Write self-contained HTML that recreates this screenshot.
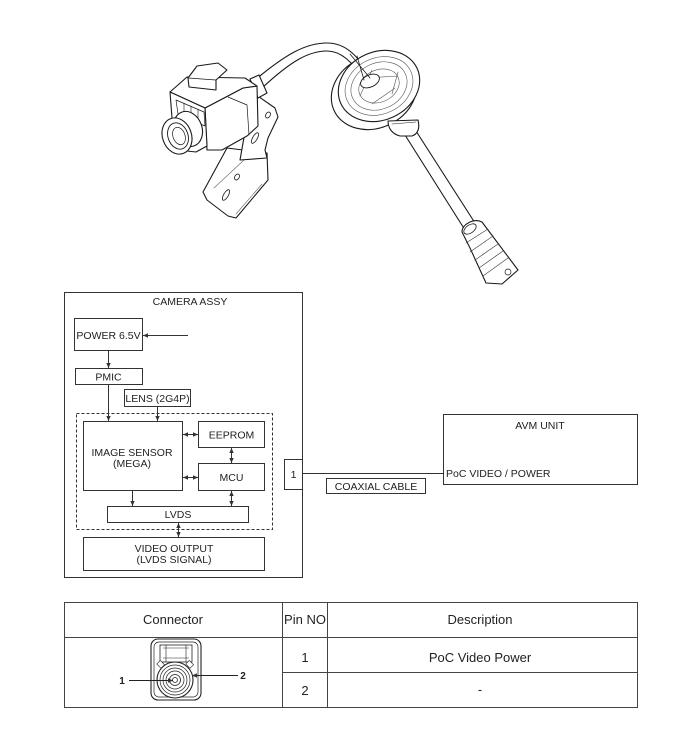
<!DOCTYPE html>
<html><head><meta charset="utf-8"><style>
html,body{margin:0;padding:0;background:#fff;}
svg{display:block;}
text{font-family:"Liberation Sans",Arial,sans-serif;fill:#222;}
</style></head><body>
<svg width="699" height="750" viewBox="0 0 699 750" xmlns="http://www.w3.org/2000/svg">
<defs>
<marker id="ah" markerWidth="6" markerHeight="6" refX="5" refY="3" orient="auto" markerUnits="userSpaceOnUse">
<path d="M0,0.8 L5,3 L0,5.2 Z" fill="#333"/>
</marker>
<marker id="as" markerWidth="6" markerHeight="6" refX="1" refY="3" orient="auto" markerUnits="userSpaceOnUse">
<path d="M6,0.8 L1,3 L6,5.2 Z" fill="#333"/>
</marker>
</defs>

<!-- ===== Illustration ===== -->
<g stroke="#1a1a1a" stroke-width="1.1" fill="#fff" stroke-linejoin="round" stroke-linecap="round">
  <!-- cable camera->grommet -->
  <path d="M255,80 C285,55 305,43 327,43 C345,43 358,55 370,77" fill="none"/>
  <path d="M262,88 C290,62 308,51 327,51 C340,51 352,60 364,81" fill="none"/>
  <!-- cable grommet->connector -->
  <path d="M405,135 L465,230" fill="none"/>
  <path d="M416,131 L475,223" fill="none"/>

  <!-- bracket lower plate -->
  <path d="M227,148 L203,192 L207,200 L228,216 L236,218 L268,180 L267,153 Z"/>
  <path d="M214,188 L244,160 M236,214 L262,184" fill="none" stroke-width="0.6" stroke="#666"/>
  <!-- bracket upper plate -->
  <path d="M252,92 L275,108 L278,117 L268,138 L265,150 L267,158 L240,160 Z"/>
  <ellipse cx="268" cy="115" rx="2.2" ry="3.2" transform="rotate(30 268 115)" stroke-width="0.8"/>
  <ellipse cx="255" cy="138" rx="2.3" ry="6" transform="rotate(30 255 138)" stroke-width="0.8"/>
  <ellipse cx="237" cy="177" rx="2.2" ry="3.2" transform="rotate(30 237 177)" stroke-width="0.8"/>
  <ellipse cx="226" cy="195" rx="2.3" ry="6" transform="rotate(30 226 195)" stroke-width="0.8"/>

  <!-- cable entry -->
  <path d="M250,79 L259,75 L267,93 L258,98 Z"/>
  <!-- body side face -->
  <path d="M205,108 L243,88 L257,86 L258,126 L247,136 L222,150 L207,150 Z"/>
  <path d="M228,97 L247,105 L249,135" fill="none" stroke-width="0.7"/>
  <!-- body top face -->
  <path d="M170,92 L187,77 L245,78 L257,86 L243,88 L205,108 Z"/>
  <!-- front face -->
  <path d="M170,92 L205,108 L207,146 L196,152 L178,150 L172,118 Z"/>
  <!-- hood -->
  <path d="M188,78 L197,66 L218,63 L227,70 L216,80 L216,90 L189,87 Z"/>
  <path d="M188,78 L216,80" fill="none" stroke-width="0.8"/>
  <!-- connector details on face -->
  <path d="M176,100 L204,112 L205,126 L178,114 Z" stroke-width="0.7"/>
  <path d="M184,103 L184,117 M191,106 L191,120 M198,109 L198,123" fill="none" stroke-width="0.6"/>
  <!-- lens -->
  <ellipse cx="188" cy="129" rx="14" ry="18" transform="rotate(-20 188 129)"/>
  <ellipse cx="177" cy="136" rx="14.5" ry="18.5" transform="rotate(-20 177 136)"/>
  <ellipse cx="178" cy="136" rx="10" ry="13.5" transform="rotate(-20 178 136)" stroke-width="0.9"/>
  <ellipse cx="179" cy="136" rx="6" ry="9" transform="rotate(-20 179 136)" stroke-width="0.7"/>

  <!-- grommet -->
  <ellipse cx="374" cy="92" rx="44" ry="36" transform="rotate(-25 374 92)"/>
  <ellipse cx="379" cy="86" rx="42" ry="34" transform="rotate(-25 379 86)"/>
  <ellipse cx="379" cy="86" rx="35" ry="28" transform="rotate(-25 379 86)" stroke-width="0.6" stroke="#555"/>
  <ellipse cx="379" cy="86" rx="29" ry="23" transform="rotate(-25 379 86)" stroke-width="0.6" stroke="#555"/>
  <ellipse cx="379" cy="86" rx="21" ry="16" transform="rotate(-25 379 86)" stroke-width="0.6" stroke="#555"/>
  <path d="M360,96 L372,70 M398,72 L392,94 M372,104 L395,88 M365,78 L398,76" fill="none" stroke-width="0.6" stroke="#555"/>
  <ellipse cx="370" cy="81" rx="10" ry="6" transform="rotate(-25 370 81)" stroke-width="0.9"/>
  <path d="M364,80 L357,56 M370,78 L350,54" fill="none" stroke-width="0.8"/>
  <!-- neck -->
  <path d="M388,121 C388,128 392,134 400,136 L412,136 C418,134 420,128 418,120 Z"/>
  <path d="M392,124 L416,122" fill="none" stroke-width="0.6"/>

  <!-- cable end connector -->
  <path d="M462,232 C462,224 474,218 482,222 L518,270 L502,284 L486,283 L470,248 Z"/>
  <ellipse cx="470" cy="229" rx="7" ry="4" transform="rotate(-35 470 229)" stroke-width="0.8"/>
  <path d="M466,243 L488,229 M470,252 L493,236 M475,260 L498,244 M479,268 L503,251 M483,276 L508,258" fill="none" stroke-width="0.7" stroke="#444"/>
  <circle cx="508" cy="272" r="3" stroke-width="0.7"/>
</g>

<!-- ===== Block diagram ===== -->
<g stroke="#333" stroke-width="1" fill="none">
  <rect x="64.5" y="292.5" width="238" height="285"/>
  <rect x="74.5" y="318.5" width="68" height="32"/>
  <line x1="188" y1="335.5" x2="143" y2="335.5" marker-end="url(#ah)"/>
  <line x1="108.5" y1="350.5" x2="108.5" y2="368" marker-end="url(#ah)"/>
  <rect x="75.5" y="368.5" width="67" height="16"/>
  <line x1="108.5" y1="384.5" x2="108.5" y2="421" marker-end="url(#ah)"/>
  <rect x="124.5" y="389.5" width="66" height="17"/>
  <line x1="157.5" y1="406.5" x2="157.5" y2="421" marker-end="url(#ah)"/>
  <rect x="76.5" y="413.5" width="196" height="116" stroke-dasharray="3,2"/>
  <rect x="83.5" y="421.5" width="99" height="69"/>
  <rect x="198.5" y="421.5" width="66" height="26"/>
  <rect x="198.5" y="463.5" width="66" height="27"/>
  <line x1="183" y1="434.5" x2="198" y2="434.5" marker-start="url(#as)" marker-end="url(#ah)"/>
  <line x1="183" y1="477.5" x2="198" y2="477.5" marker-start="url(#as)" marker-end="url(#ah)"/>
  <line x1="231.5" y1="448" x2="231.5" y2="463" marker-start="url(#as)" marker-end="url(#ah)"/>
  <rect x="107.5" y="506.5" width="141" height="16"/>
  <line x1="132.5" y1="491" x2="132.5" y2="506" marker-end="url(#ah)"/>
  <line x1="231.5" y1="491" x2="231.5" y2="506" marker-start="url(#as)" marker-end="url(#ah)"/>
  <line x1="178.5" y1="523" x2="178.5" y2="537" marker-start="url(#as)" marker-end="url(#ah)"/>
  <rect x="83.5" y="537.5" width="181" height="33"/>
  <rect x="284.5" y="459.5" width="18" height="30"/>
  <line x1="302.5" y1="473.5" x2="443.5" y2="473.5"/>
  <rect x="326.5" y="478.5" width="99" height="15"/>
  <rect x="443.5" y="414.5" width="194" height="70"/>
</g>
<g font-size="10.5" text-anchor="middle">
  <text x="190" y="305">CAMERA ASSY</text>
  <text x="108.5" y="339">POWER 6.5V</text>
  <text x="108.5" y="380.5">PMIC</text>
  <text x="157.5" y="402">LENS (2G4P)</text>
  <text x="132" y="456">IMAGE SENSOR</text>
  <text x="132" y="467">(MEGA)</text>
  <text x="231.5" y="438.5">EEPROM</text>
  <text x="231.5" y="481">MCU</text>
  <text x="178" y="518">LVDS</text>
  <text x="174" y="552">VIDEO OUTPUT</text>
  <text x="174" y="563">(LVDS SIGNAL)</text>
  <text x="293.5" y="478">1</text>
  <text x="376" y="490">COAXIAL CABLE</text>
  <text x="540" y="429">AVM UNIT</text>
  <text x="446" y="477" text-anchor="start">PoC VIDEO / POWER</text>
</g>

<!-- ===== Table ===== -->
<g stroke="#444" stroke-width="1" fill="none">
  <rect x="64.5" y="602.5" width="573" height="105"/>
  <line x1="282.5" y1="602.5" x2="282.5" y2="707.5"/>
  <line x1="327.5" y1="602.5" x2="327.5" y2="707.5"/>
  <line x1="64.5" y1="637.5" x2="637.5" y2="637.5"/>
  <line x1="282.5" y1="672.5" x2="637.5" y2="672.5"/>
</g>
<g font-size="13" text-anchor="middle">
  <text x="173" y="624">Connector</text>
  <text x="305" y="624">Pin NO</text>
  <text x="480" y="624">Description</text>
  <text x="305" y="662">1</text>
  <text x="480" y="662">PoC Video Power</text>
  <text x="305" y="695">2</text>
  <text x="480" y="694">-</text>
</g>

<!-- connector drawing -->
<g stroke="#222" fill="#fff" stroke-width="1.1">
  <rect x="151" y="639" width="50" height="61" rx="7"/>
  <rect x="154" y="642" width="44" height="55" rx="5" stroke-width="0.7"/>
  <rect x="160" y="645" width="32" height="17" stroke-width="0.8"/>
  <path d="M163,648 L189,648 M163,658 L189,658 M166,645 L166,662 M186,645 L186,662" fill="none" stroke-width="0.6"/>
  <rect x="158" y="662" width="6" height="5" stroke-width="0.6" transform="rotate(45 161 664)"/>
  <rect x="187" y="662" width="6" height="5" stroke-width="0.6" transform="rotate(45 190 664)"/>
  <circle cx="175" cy="680" r="18"/>
  <circle cx="175" cy="680" r="15" stroke-width="0.7"/>
  <circle cx="175" cy="680" r="12" stroke-width="0.7"/>
  <circle cx="175" cy="680" r="9" stroke-width="0.7"/>
  <circle cx="175" cy="680" r="5.5" stroke-width="0.8"/>
  <circle cx="175" cy="680" r="2.5" stroke-width="0.8"/>
</g>
<g stroke="#222" stroke-width="1" fill="none">
  <line x1="129" y1="680.5" x2="173" y2="680.5" marker-end="url(#ah)"/>
  <line x1="238" y1="675.5" x2="192" y2="675.5" marker-end="url(#ah)"/>
</g>
<g font-size="10" font-weight="bold" text-anchor="middle">
  <text x="122" y="684">1</text>
  <text x="243" y="679">2</text>
</g>
</svg>
</body></html>
